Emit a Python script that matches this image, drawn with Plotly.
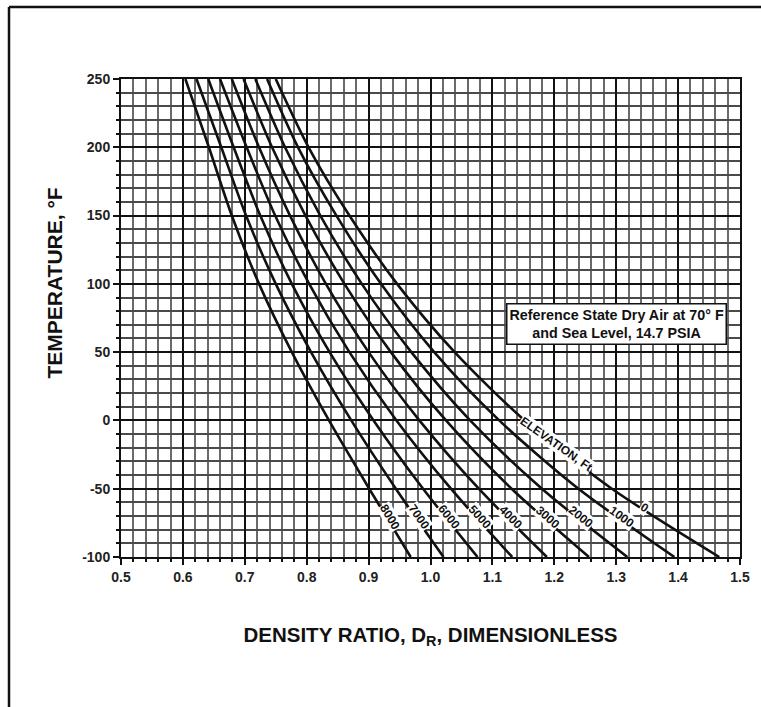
import math
import numpy as np
import plotly.graph_objects as go

# ---- data ----
temps = [250, 200, 150, 100, 50, 0, -50, -100]
elevations = ["0", "1000", "2000", "3000", "4000", "5000", "6000", "7000", "8000"]
dr_0 = [0.750, 0.803, 0.869, 0.946, 1.039, 1.152, 1.293, 1.4665]
dr_1000 = [0.736, 0.786, 0.848, 0.920, 1.006, 1.111, 1.239, 1.394]
dr_2000 = [0.717, 0.765, 0.822, 0.889, 0.969, 1.064, 1.180, 1.318]
dr_3000 = [0.698, 0.744, 0.798, 0.861, 0.936, 1.025, 1.131, 1.256]
dr_4000 = [0.679, 0.723, 0.773, 0.831, 0.900, 0.982, 1.078, 1.188]
dr_5000 = [0.660, 0.703, 0.749, 0.804, 0.869, 0.945, 1.033, 1.132]
dr_6000 = [0.641, 0.682, 0.725, 0.776, 0.837, 0.908, 0.988, 1.076]
dr_7000 = [0.622, 0.662, 0.702, 0.750, 0.807, 0.872, 0.944, 1.021]
dr_8000 = [0.604, 0.642, 0.679, 0.723, 0.776, 0.836, 0.901, 0.968]
curves = [dr_0, dr_1000, dr_2000, dr_3000, dr_4000, dr_5000, dr_6000, dr_7000, dr_8000]

y_tickvals = [-100, -50, 0, 50, 100, 150, 200, 250]
y_ticktext = ["-100", "-50", "0", "50", "100", "150", "200", "250"]
x_tickvals = [0.5, 0.6, 0.7, 0.8, 0.9, 1.0, 1.1, 1.2, 1.3, 1.4, 1.5]
x_ticktext = ["0.5", "0.6", "0.7", "0.8", "0.9", "1.0", "1.1", "1.2", "1.3", "1.4", "1.5"]
label_temps = [-64, -71, -71, -71, -71, -71, -71, -71, -71]
elev_title_temp = -17

# ---- layout geometry ----
W, H = 761, 707
ML, MR, MT, MB = 121, 21, 79, 150
PW, PH = W - ML - MR, H - MT - MB
XR = (0.5, 1.5)
YR = (-100, 250)
px_per_x = PW / (XR[1] - XR[0])
px_per_y = PH / (YR[1] - YR[0])

FONT = "Liberation Sans, Arial, Helvetica, sans-serif"
INK = "#111111"

fig = go.Figure()
for name, dr in zip(elevations, curves):
    fig.add_trace(go.Scatter(
        x=dr, y=temps, mode="lines", name=name,
        line=dict(color=INK, width=2.6, shape="spline", smoothing=0.8),
        showlegend=False, hoverinfo="skip"))


def angle_at(dr, t):
    ta = np.array(temps[::-1], dtype=float)
    xa = np.array(dr[::-1], dtype=float)
    x1 = np.interp(t - 5, ta, xa)
    x2 = np.interp(t + 5, ta, xa)
    dx = (x1 - x2) * px_per_x
    dy = 10 * px_per_y
    return math.degrees(math.atan2(dy, dx))


annotations = []
for name, dr, lt in zip(elevations, curves, label_temps):
    ta = np.array(temps[::-1], dtype=float)
    xa = np.array(dr[::-1], dtype=float)
    xl = float(np.interp(lt, ta, xa))
    annotations.append(dict(
        x=xl, y=lt, xref="x", yref="y", text="<b>%s</b>" % name,
        showarrow=False, textangle=angle_at(dr, lt), xshift=3,
        font=dict(family=FONT, size=12, color=INK),
        bgcolor="white", borderpad=0))

# elevation title along the 0 ft curve
ta = np.array(temps[::-1], dtype=float)
xa = np.array(dr_0[::-1], dtype=float)
annotations.append(dict(
    x=float(np.interp(elev_title_temp, ta, xa)), y=elev_title_temp,
    xref="x", yref="y", text="<b>ELEVATION, Ft</b>", showarrow=False,
    textangle=angle_at(dr_0, elev_title_temp) - 3, xshift=2,
    font=dict(family=FONT, size=12, color=INK),
    bgcolor="white", borderpad=0))

# reference state box
annotations.append(dict(
    x=1.301, y=70.5, xref="x", yref="y",
    text="<b>Reference State Dry Air at 70° F<br>and Sea Level, 14.7 PSIA</b>",
    showarrow=False, align="center",
    font=dict(family=FONT, size=14.3, color=INK),
    bgcolor="white", bordercolor=INK, borderwidth=1.5, borderpad=2))

# y-axis title
annotations.append(dict(
    x=(40 - ML) / PW, y=(MT + PH - 283) / PH, xref="paper", yref="paper",
    text="<b>TEMPERATURE, °F</b>", textangle=-90, showarrow=False,
    font=dict(family=FONT, size=21, color=INK)))

# outer frame (left and top edges)
fx0 = (9 - ML) / PW
fy0 = 1 + (MT - 7) / PH
shapes = [dict(type="line", xref="paper", yref="paper",
               x0=fx0, y0=fy0, x1=fx0, y1=-0.4,
               line=dict(color=INK, width=2.5)),
          dict(type="line", xref="paper", yref="paper",
               x0=fx0, y0=fy0, x1=1.1, y1=fy0,
               line=dict(color=INK, width=2.5))]

fig.update_layout(
    width=W, height=H,
    margin=dict(l=ML, r=MR, t=MT, b=MB, autoexpand=False),
    paper_bgcolor="white", plot_bgcolor="white",
    font=dict(family=FONT, color=INK),
    annotations=annotations, shapes=shapes,
    xaxis=dict(
        range=list(XR), tickvals=x_tickvals, ticktext=x_ticktext,
        showgrid=True, gridcolor=INK, gridwidth=2,
        showline=True, linecolor=INK, linewidth=2, mirror=True,
        ticks="outside", ticklen=6, tickwidth=2, tickcolor=INK,
        tickfont=dict(family=FONT, size=14, weight="bold", color="#222222"),
        zeroline=False,
        minor=dict(dtick=0.02, showgrid=True, gridcolor="#6a6a6a", gridwidth=1.5,
                   ticks="outside", ticklen=3, tickwidth=1.5, tickcolor=INK),
        title=dict(text="DENSITY RATIO, D<sub>R</sub>, DIMENSIONLESS",
                   font=dict(family=FONT, size=20.5, weight="bold", color=INK),
                   standoff=44),
    ),
    yaxis=dict(
        range=list(YR), tickvals=y_tickvals, ticktext=y_ticktext,
        showgrid=True, gridcolor=INK, gridwidth=2,
        showline=True, linecolor=INK, linewidth=2, mirror=True,
        ticks="outside", ticklen=6, tickwidth=2, tickcolor=INK,
        tickfont=dict(family=FONT, size=14, weight="bold", color="#222222"),
        zeroline=False,
        minor=dict(dtick=10, showgrid=True, gridcolor="#4a4a4a", gridwidth=1.5,
                   ticks="outside", ticklen=3, tickwidth=1.5, tickcolor=INK),
    ),
)

fig.write_html("out.html", config={"displayModeBar": False},
               post_script="document.body.style.margin='0px';")
